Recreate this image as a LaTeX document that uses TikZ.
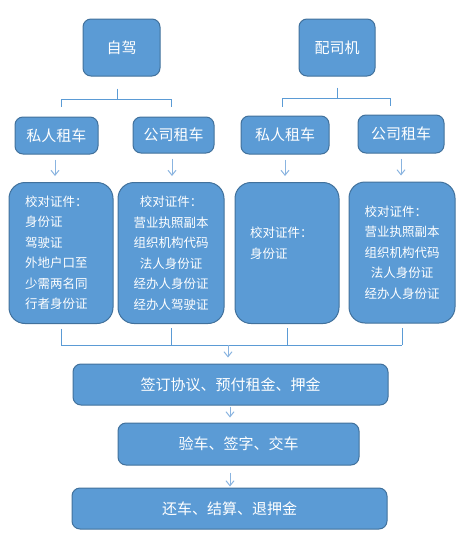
\documentclass[tikz,border=0pt]{standalone}
\usepackage{fontspec}
\setmainfont{Noto Sans CJK SC}
\usepackage{xcolor}
\usetikzlibrary{arrows.meta,positioning}
\definecolor{boxblue}{HTML}{5B9BD5}
\definecolor{boxline}{HTML}{41719C}
\definecolor{linkblue}{HTML}{5B9BD5}
\definecolor{arrowblue}{HTML}{8AB4E0}

\begin{document}
\begin{tikzpicture}[
  x=1pt, y=-1pt,
  box/.style={rectangle, draw=boxline, fill=boxblue, rounded corners=8pt,
              line width=1pt, text=white, align=center, inner sep=0pt,
              font=\fontsize{15}{18}\selectfont},
  card/.style={box, rounded corners=16pt, minimum height=141pt,
               font=\fontsize{12.5}{20.5}\selectfont},
  link/.style={draw=linkblue, line width=1pt},
  arr/.style={-{Straight Barb[length=5pt,width=8pt]}, draw=arrowblue, line width=1pt},
]
  \useasboundingbox (0,0) rectangle (463,549);

  % Top
  \node[box, minimum width=77pt, minimum height=57pt] (zj) at (121.5,47.5) {自驾};
  \node[box, minimum width=76pt, minimum height=57pt] (pj) at (337,47.5) {配司机};

  % Second row
  \node[box, minimum width=83pt, minimum height=37pt] (p1) at (56.5,135.5) {私人租车};
  \node[box, minimum width=81pt, minimum height=36pt] (p2) at (173.5,135) {公司租车};
  \node[box, minimum width=88pt, minimum height=38pt] (p3) at (285,135) {私人租车};
  \node[box, minimum width=86pt, minimum height=38pt] (p4) at (401,134) {公司租车};

  % Documents
  \node[card, minimum width=104pt, text width=72pt, align=left] (d1) at (61,253)
    {校对证件：\\身份证\\驾驶证\\外地户口至\\少需两名同\\行者身份证};
  \node[card, minimum width=106pt] (d2) at (171,253)
    {校对证件：\\营业执照副本\\组织机构代码\\法人身份证\\经办人身份证\\经办人驾驶证};
  \node[card, minimum width=104pt, text width=74pt, align=left] (d3) at (287,253)
    {校对证件：\\身份证\\ \mbox{}};
  \node[card, minimum width=106pt] (d4) at (402,252.5)
    {校对证件：\hphantom{证}\\营业执照副本\\组织机构代码\\法人身份证\\经办人身份证};

  % Steps
  \node[box, minimum width=315pt, minimum height=41pt] (sign) at (230.5,384.5) {签订协议、预付租金、押金};
  \node[box, minimum width=241pt, minimum height=42pt] (check) at (238.5,444) {验车、签字、交车};
  \node[box, minimum width=315pt, minimum height=41pt] (ret) at (229.5,508.5) {还车、结算、退押金};

  % Brackets
  \coordinate (zjfork) at ([xshift=-4pt,yshift=-23pt]zj.south);
  \draw[link] ([xshift=-4pt,yshift=-12pt]zj.south) -- (zjfork);
  \draw[link] ([xshift=5pt,yshift=10pt]p1.north) |- (zjfork) -| ([xshift=-2.5pt,yshift=10pt]p2.north);
  \coordinate (pjfork) at ([yshift=-22pt]pj.south);
  \draw[link] ([yshift=-11pt]pj.south) -- (pjfork);
  \draw[link] ([xshift=-3pt,yshift=9pt]p3.north) |- (pjfork) -| ([xshift=-11pt,yshift=9pt]p4.north);

  % Arrows to documents
  \draw[arr] ([xshift=-1.5pt,yshift=-5pt]p1.south) -- ([xshift=-1.5pt,yshift=6pt]p1.south |- d1.north);
  \draw[arr] ([xshift=-1.5pt,yshift=-5pt]p2.south) -- ([xshift=-1.5pt,yshift=6pt]p2.south |- d2.north);
  \draw[arr] ([yshift=-5pt]p3.south) -- ([yshift=6pt]p3.south |- d3.north);
  \draw[arr] ([yshift=-5pt]p4.south) -- ([yshift=6pt]p4.south |- d4.north);

  % Join
  \coordinate (join) at (228,345);
  \draw[link] ([yshift=-4.5pt]d1.south) -- (d1.south |- join);
  \draw[link] ([yshift=-4pt]d2.south) -- (d2.south |- join);
  \draw[link] ([yshift=-4pt]d3.south) -- (d3.south |- join);
  \draw[link] ([yshift=-4.5pt]d4.south) -- (d4.south |- join);
  \draw[link] (d1.south |- join) -- (d4.south |- join);
  \draw[arr] (join) -- ([yshift=6pt]join |- sign.north);

  % Steps arrows
  \coordinate (c1) at (sign.south |- check.south);
  \draw[arr] ([xshift=-0.5pt,yshift=-1pt]sign.south) -- ([xshift=-0.5pt,yshift=5pt]sign.south |- check.north);
  \draw[arr] ([xshift=-0.5pt,yshift=-7pt]c1) -- ([xshift=-0.5pt,yshift=1pt]c1 |- ret.north);
\end{tikzpicture}
\end{document}
